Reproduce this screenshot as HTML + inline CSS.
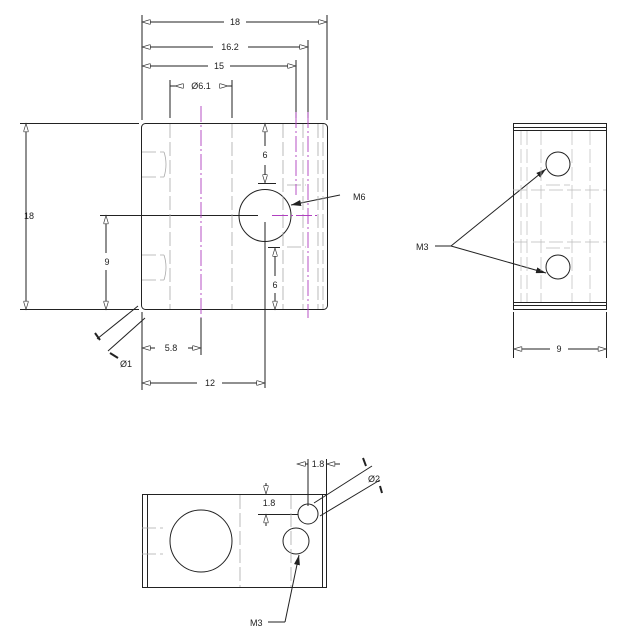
<!DOCTYPE html>
<html><head><meta charset="utf-8"><style>
html,body{margin:0;padding:0;background:#fff;}
svg{display:block;}
text{font-family:"Liberation Sans",sans-serif;font-size:9px;fill:#222;}
</style></head><body>
<svg width="624" height="635" viewBox="0 0 624 635" xmlns="http://www.w3.org/2000/svg">
<defs>
<marker id="a" viewBox="0 0 10 6" refX="10" refY="3" markerWidth="10" markerHeight="5" orient="auto-start-reverse" markerUnits="userSpaceOnUse">
<path d="M0,0 L10,3 L0,6 Z" fill="#fff" stroke="#333" stroke-width="0.8"/></marker>
<marker id="f" viewBox="0 0 10 6" refX="10" refY="3" markerWidth="10" markerHeight="6" orient="auto" markerUnits="userSpaceOnUse">
<path d="M0,0 L10,3 L0,6 Z" fill="#222"/></marker>
</defs>
<g stroke="#222" stroke-width="1" fill="none">
<rect x="141.5" y="123.5" width="186" height="186" rx="4"/>
<line x1="142" y1="15" x2="142" y2="120"/><line x1="327" y1="15" x2="327" y2="120"/>
<line x1="308" y1="40" x2="308" y2="118"/><line x1="296" y1="60" x2="296" y2="118"/>
<line x1="170" y1="80" x2="170" y2="118"/><line x1="232" y1="80" x2="232" y2="118"/>
<line x1="20" y1="123.5" x2="139" y2="123.5"/><line x1="20" y1="309.5" x2="139" y2="309.5"/>
<line x1="142" y1="312" x2="142" y2="390"/>
<line x1="100" y1="215.5" x2="258" y2="215.5"/>
<line x1="265" y1="222" x2="265" y2="388"/>
<line x1="201" y1="318" x2="201" y2="355"/>
<line x1="142" y1="22" x2="224" y2="22" marker-start="url(#a)"/><line x1="246" y1="22" x2="327" y2="22" marker-end="url(#a)"/>
<line x1="142" y1="47" x2="213" y2="47" marker-start="url(#a)"/><line x1="248" y1="47" x2="308" y2="47" marker-end="url(#a)"/>
<line x1="142" y1="66" x2="208" y2="66" marker-start="url(#a)"/><line x1="230" y1="66" x2="296" y2="66" marker-end="url(#a)"/>
<line x1="170" y1="86" x2="183" y2="86"/><line x1="183" y1="86" x2="175" y2="86" marker-end="url(#a)"/>
<line x1="232" y1="86" x2="220" y2="86"/><line x1="220" y1="86" x2="228" y2="86" marker-end="url(#a)"/>
<line x1="26" y1="123.5" x2="26" y2="309.5" marker-start="url(#a)" marker-end="url(#a)"/>
<line x1="106" y1="215.5" x2="106" y2="253" marker-start="url(#a)"/><line x1="106" y1="270" x2="106" y2="309.5" marker-end="url(#a)"/>
<line x1="265" y1="123.5" x2="265" y2="146" marker-start="url(#a)"/><line x1="265" y1="165" x2="265" y2="183" marker-end="url(#a)"/>
<line x1="258" y1="183.5" x2="276" y2="183.5"/>
<line x1="268" y1="247.5" x2="280" y2="247.5"/>
<line x1="275" y1="248" x2="275" y2="276" marker-start="url(#a)"/><line x1="275" y1="293" x2="275" y2="309.5" marker-end="url(#a)"/>
<line x1="142" y1="348" x2="155" y2="348" marker-start="url(#a)"/><line x1="188" y1="348" x2="201" y2="348" marker-end="url(#a)"/>
<line x1="142" y1="383" x2="197" y2="383" marker-start="url(#a)"/><line x1="222" y1="383" x2="265" y2="383" marker-end="url(#a)"/>
<line x1="97" y1="339" x2="138" y2="306"/><line x1="108" y1="351" x2="145" y2="318"/>
<line x1="95" y1="333" x2="100" y2="340" stroke-width="2"/><line x1="110" y1="353" x2="118" y2="358" stroke-width="2"/>
<circle cx="265" cy="215.5" r="26"/>
<line x1="340" y1="195" x2="291" y2="205" marker-end="url(#f)"/>
</g>
<g stroke="#aaa" stroke-width="0.8" fill="none" stroke-dasharray="14,4">
<line x1="170" y1="124" x2="170" y2="309"/><line x1="232" y1="124" x2="232" y2="309"/>
<line x1="283" y1="124" x2="283" y2="309"/><line x1="303" y1="124" x2="303" y2="309"/>
<line x1="318" y1="124" x2="318" y2="309"/><line x1="323" y1="124" x2="323" y2="309"/>
<line x1="142" y1="152" x2="164" y2="152"/><line x1="142" y1="177" x2="164" y2="177"/>
<line x1="142" y1="255" x2="164" y2="255"/><line x1="142" y1="280" x2="164" y2="280"/>
<line x1="287" y1="185" x2="306" y2="185"/><line x1="287" y1="247" x2="306" y2="247"/>
</g>
<path d="M164,152 q4,12 0,25 M164,255 q4,12 0,25" stroke="#aaa" stroke-width="0.8" fill="none"/>
<g stroke="#b040c0" stroke-width="0.9" fill="none" stroke-dasharray="16,3,2,3">
<line x1="201" y1="106" x2="201" y2="318"/>
<line x1="296" y1="112" x2="296" y2="195"/>
<line x1="308" y1="112" x2="308" y2="318"/>
<line x1="272" y1="215.5" x2="320" y2="215.5"/>
</g>
<text x="235" y="25" text-anchor="middle">18</text>
<text x="230" y="50" text-anchor="middle">16.2</text>
<text x="219" y="69" text-anchor="middle">15</text>
<text x="201" y="89" text-anchor="middle">Ø6.1</text>
<text x="29" y="219" text-anchor="middle">18</text>
<text x="107" y="265" text-anchor="middle">9</text>
<text x="265" y="158" text-anchor="middle">6</text>
<text x="275" y="288" text-anchor="middle">6</text>
<text x="171" y="351" text-anchor="middle">5.8</text>
<text x="210" y="386" text-anchor="middle">12</text>
<text x="126" y="367" text-anchor="middle">Ø1</text>
<text x="353" y="200">M6</text>
<g stroke="#222" stroke-width="1" fill="none">
<rect x="513.5" y="123.5" width="93" height="186"/>
<line x1="513" y1="127.5" x2="606" y2="127.5"/><line x1="513" y1="130.5" x2="606" y2="130.5"/>
<line x1="513" y1="302.5" x2="606" y2="302.5"/><line x1="513" y1="305.5" x2="606" y2="305.5"/>
<circle cx="558" cy="164" r="12"/><circle cx="558" cy="267" r="12"/>
<line x1="435" y1="246" x2="451" y2="246"/>
<line x1="451" y1="246" x2="546" y2="169" marker-end="url(#f)"/>
<line x1="451" y1="246" x2="546" y2="273" marker-end="url(#f)"/>
<line x1="513.5" y1="312" x2="513.5" y2="358"/><line x1="606.5" y1="312" x2="606.5" y2="358"/>
<line x1="513.5" y1="349" x2="550" y2="349" marker-start="url(#a)"/><line x1="568" y1="349" x2="606.5" y2="349" marker-end="url(#a)"/>
</g>
<g stroke="#bbb" stroke-width="0.7" fill="none" stroke-dasharray="14,4">
<line x1="521" y1="131" x2="521" y2="302"/><line x1="527" y1="131" x2="527" y2="302"/>
<line x1="541" y1="131" x2="541" y2="302"/>
<line x1="572" y1="131" x2="572" y2="302"/><line x1="590" y1="131" x2="590" y2="302"/>
<line x1="513" y1="190" x2="606" y2="190"/><line x1="513" y1="242" x2="606" y2="242"/>
<line x1="546" y1="185" x2="570" y2="185"/><line x1="546" y1="248" x2="570" y2="248"/>
</g>
<text x="416" y="250">M3</text>
<text x="559" y="352" text-anchor="middle">9</text>
<g stroke="#222" stroke-width="1" fill="none">
<rect x="142.5" y="494.5" width="184" height="93"/>
<line x1="147.5" y1="494" x2="147.5" y2="587"/><line x1="322.5" y1="494" x2="322.5" y2="587"/>
<circle cx="201" cy="541" r="31"/>
<circle cx="308" cy="514" r="10"/>
<circle cx="296" cy="541" r="13"/>
<line x1="308" y1="459" x2="308" y2="506"/><line x1="326.5" y1="459" x2="326.5" y2="494"/>
<line x1="297" y1="464" x2="308" y2="464" marker-start="url(#a)"/>
<line x1="340" y1="464" x2="326.5" y2="464" marker-end="url(#a)"/>
<line x1="258" y1="514.5" x2="298" y2="514.5"/>
<line x1="260" y1="494.5" x2="284" y2="494.5"/>
<line x1="266" y1="483" x2="266" y2="494" marker-end="url(#a)"/>
<line x1="266" y1="526" x2="266" y2="514.5" marker-end="url(#a)"/>
<line x1="314" y1="503" x2="372" y2="466"/><line x1="320" y1="516" x2="380" y2="480"/>
<line x1="363" y1="458" x2="366" y2="466" stroke-width="2"/><line x1="380" y1="486" x2="382" y2="493" stroke-width="2"/>
<line x1="268" y1="622" x2="285" y2="622"/>
<line x1="285" y1="622" x2="299" y2="555" marker-end="url(#f)"/>
</g>
<g stroke="#aaa" stroke-width="0.8" fill="none" stroke-dasharray="14,4">
<line x1="240" y1="495" x2="240" y2="587"/><line x1="291" y1="495" x2="291" y2="587"/>
<line x1="142" y1="528" x2="163" y2="528"/><line x1="142" y1="554" x2="163" y2="554"/>
</g>
<text x="318" y="467" text-anchor="middle">1.8</text>
<text x="269" y="506" text-anchor="middle">1.8</text>
<text x="374" y="482" text-anchor="middle">Ø2</text>
<text x="250" y="626">M3</text>
</svg>
</body></html>
